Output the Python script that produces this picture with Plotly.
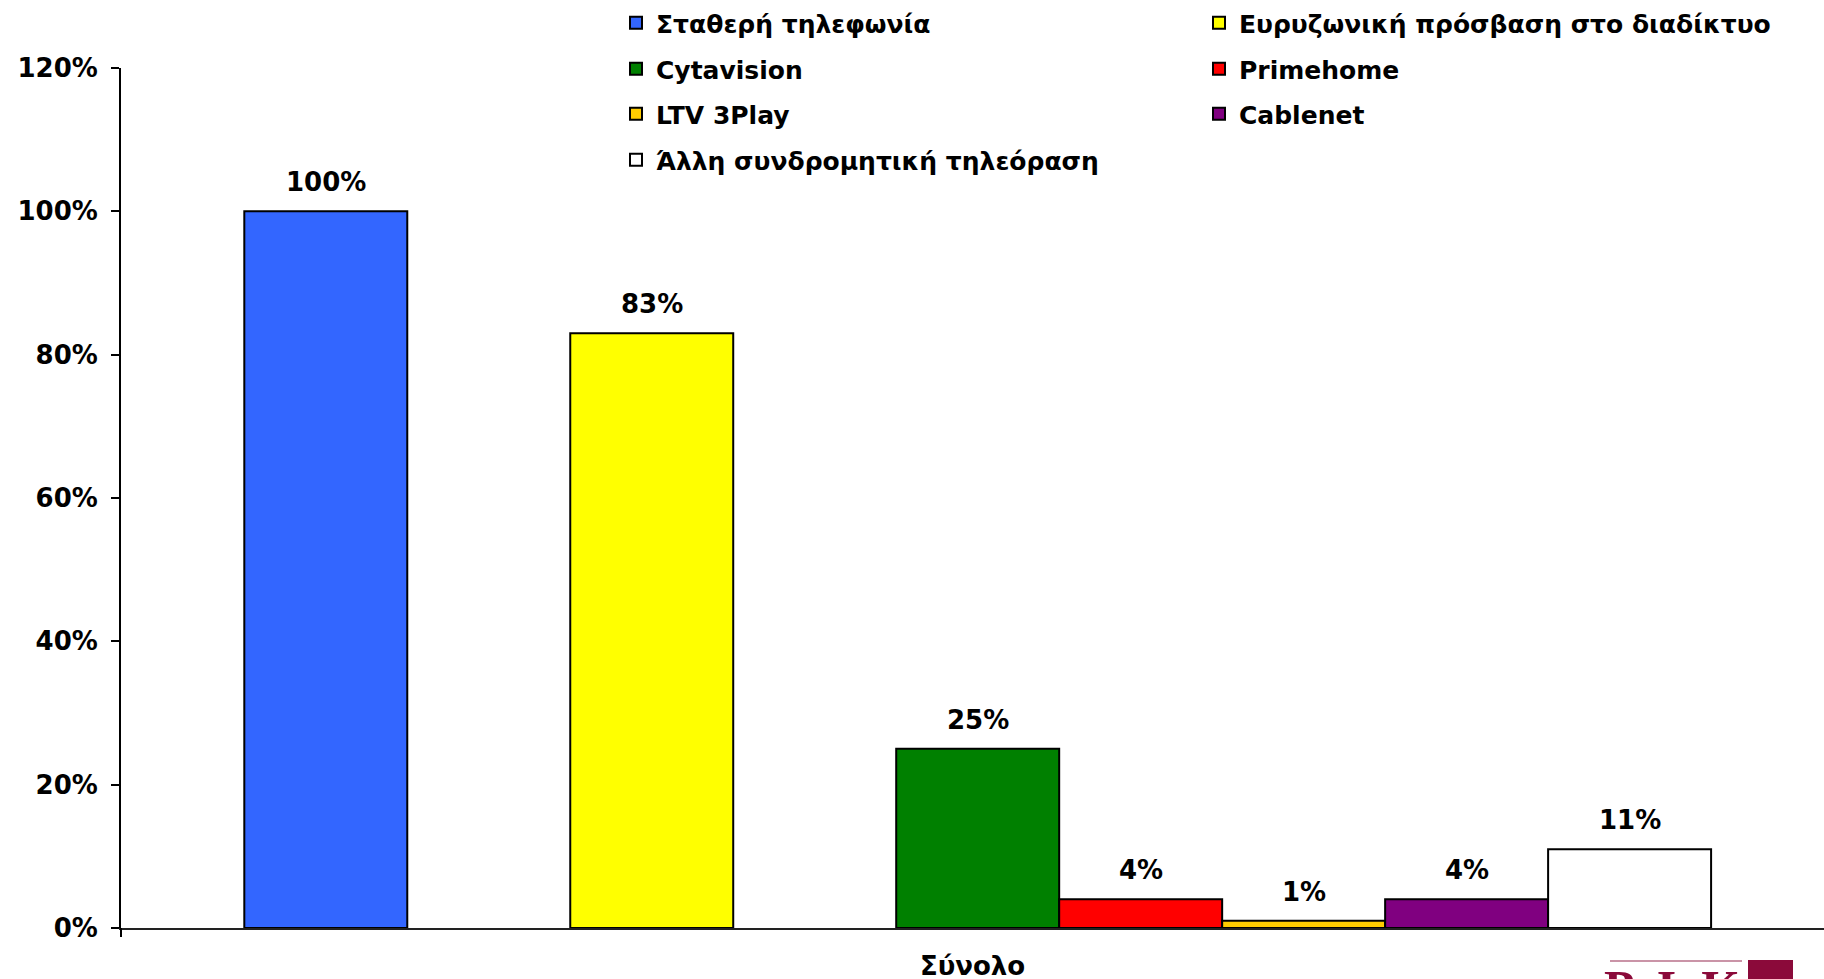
import plotly.graph_objects as go

# ---------------- data ----------------
category = ["Σύνολο"]
series_names = [
    "Σταθερή τηλεφωνία",
    "Ευρυζωνική πρόσβαση στο διαδίκτυο",
    "Cytavision",
    "Primehome",
    "LTV 3Play",
    "Cablenet",
    "Άλλη συνδρομητική τηλεόραση",
]
values = [1.00, 0.83, 0.25, 0.04, 0.01, 0.04, 0.11]
y_tick_values = [0, 0.2, 0.4, 0.6, 0.8, 1.0, 1.2]

# ---------------- style ----------------
colors = ["#3366FF", "#FFFF00", "#008000", "#FF0000", "#FFCC00", "#800080", "#FFFFFF"]
slots = [0, 2, 4, 5, 6, 7, 8]          # slot position of each series within the group
legend_ids = ["legend", "legend", "legend2", "legend2", "legend3", "legend3", "legend4"]
slot_w = 0.0957
slot_start = -0.4276

W, H = 1824, 979
FONT = "DejaVu Sans"

fig = go.Figure()
annotations = []
for name, v, c, s, lg in zip(series_names, values, colors, slots, legend_ids):
    fig.add_trace(go.Bar(
        x=category, y=[v], name=name,
        width=slot_w, offset=slot_start + s * slot_w,
        marker=dict(color=c, line=dict(color="black", width=2)),
        legend=lg, hoverinfo="skip",
    ))
    annotations.append(dict(
        x=slot_start + (s + 0.5) * slot_w, y=v, xref="x", yref="y",
        text=f"{v:.0%}", showarrow=False, yanchor="bottom", yshift=12,
        font=dict(family=FONT, size=26, color="black", weight="bold"),
    ))

legend_rows_px = [23, 69, 114, 160]
legend_common = dict(
    orientation="h", xref="container", yref="container",
    x=616 / W, xanchor="left", yanchor="middle",
    entrywidth=538, entrywidthmode="pixels",
    font=dict(family=FONT, size=25, color="black", weight="bold"),
    bgcolor="rgba(0,0,0,0)", borderwidth=0, traceorder="normal",
)

# logo fragment at bottom right
logo_red = "#8B0A3A"
shapes = [
    dict(type="line", xref="paper", yref="paper", x0=0, x1=0, y0=0, y1=-9 / 860,
         line=dict(color="black", width=2)),
    dict(type="line", xref="paper", yref="paper",
         x0=(1610 - 121) / 1703, x1=(1742 - 121) / 1703,
         y0=-(961 - 928) / 860, y1=-(961 - 928) / 860,
         line=dict(color="#B8708A", width=1.5)),
    dict(type="rect", xref="paper", yref="paper",
         x0=(1748 - 121) / 1703, x1=(1793 - 121) / 1703,
         y0=-(960 - 928) / 860, y1=-(985 - 928) / 860,
         fillcolor=logo_red, line=dict(width=0)),
]
annotations.append(dict(
    xref="paper", yref="paper", x=(1672 - 121) / 1703, y=-(958 - 928) / 860,
    text="Ρ  Ι  Κ", showarrow=False, xanchor="center", yanchor="top",
    font=dict(family="Liberation Serif", size=50, color=logo_red, weight="bold"),
))

fig.update_layout(
    width=W, height=H,
    margin=dict(l=121, r=0, t=68, b=51, autoexpand=False),
    plot_bgcolor="white", paper_bgcolor="white",
    barmode="overlay",
    showlegend=True,
    legend=dict(legend_common, y=1 - legend_rows_px[0] / H),
    legend2=dict(legend_common, y=1 - legend_rows_px[1] / H),
    legend3=dict(legend_common, y=1 - legend_rows_px[2] / H),
    legend4=dict(legend_common, y=1 - legend_rows_px[3] / H),
    xaxis=dict(
        type="category", range=[-0.5, 0.5],
        showline=True, linecolor="#222222", linewidth=2,
        showgrid=False, zeroline=False, ticks="",
        ticklabelstandoff=14,
        tickfont=dict(family=FONT, size=26, color="black", weight="bold"),
    ),
    yaxis=dict(
        range=[0, 1.2], tickvals=y_tick_values, tickformat=".0%",
        showline=True, linecolor="black", linewidth=2,
        ticks="outside", ticklen=8, tickwidth=2, tickcolor="black",
        showgrid=False, zeroline=False, ticklabelstandoff=8,
        tickfont=dict(family=FONT, size=26, color="black", weight="bold"),
    ),
    annotations=annotations,
    shapes=shapes,
)

fig.write_html(
    "out.html",
    config={"displayModeBar": False},
    post_script="document.body.style.margin='0';document.body.style.overflow='hidden';",
)
